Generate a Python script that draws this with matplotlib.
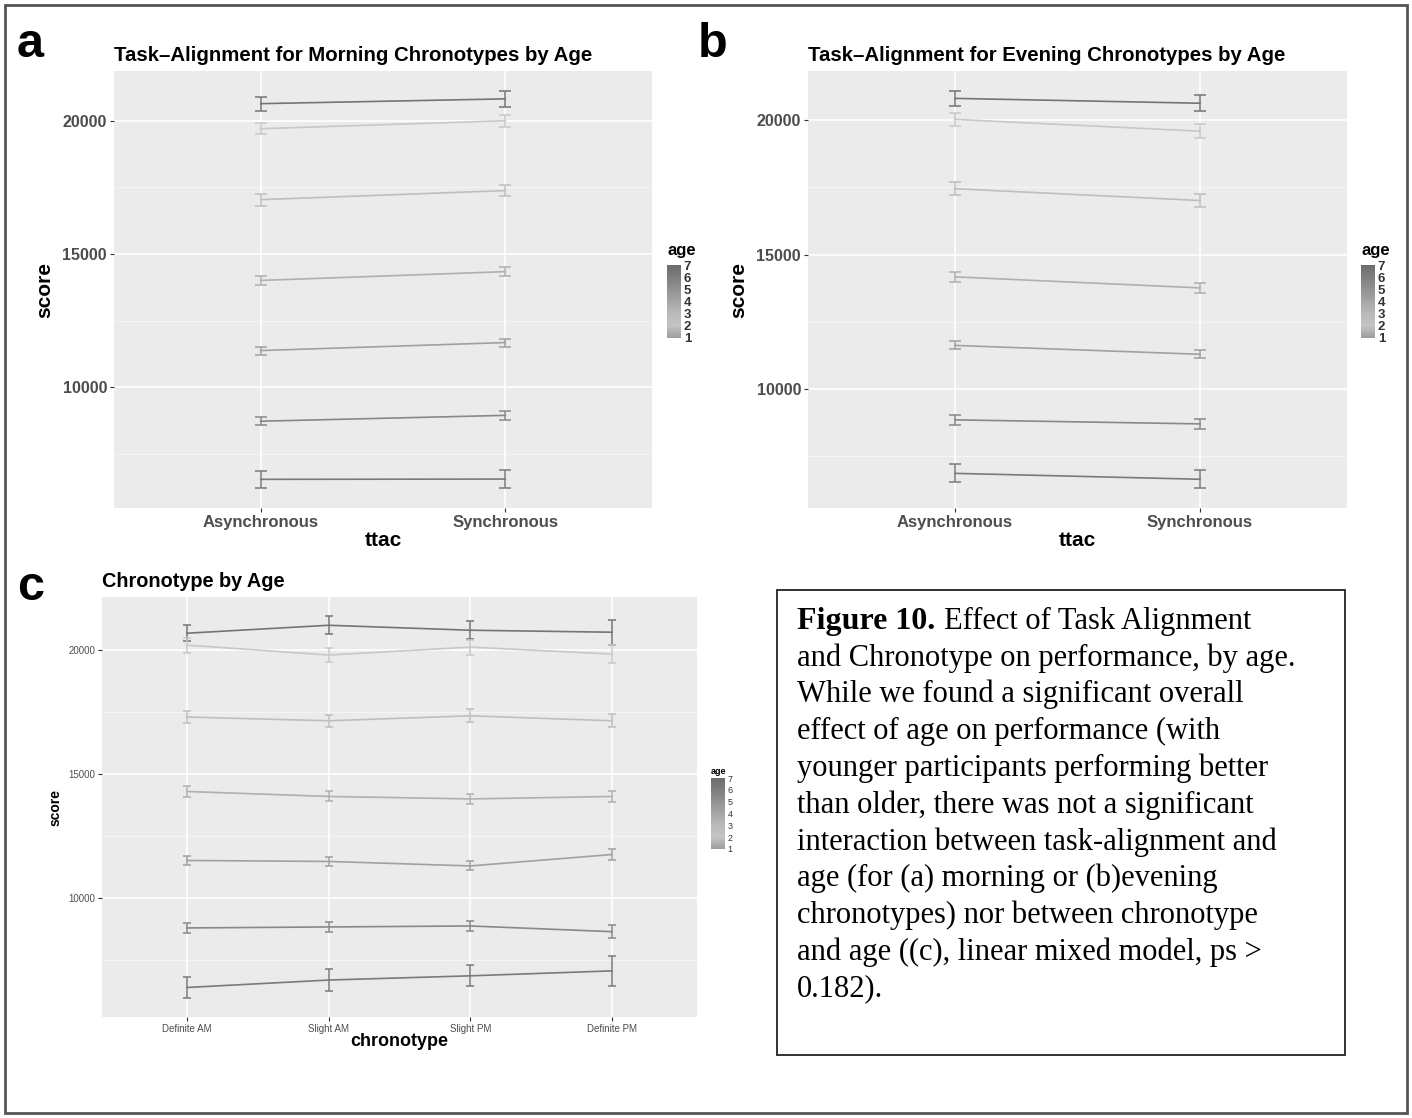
import matplotlib
matplotlib.use('Agg')
import matplotlib.pyplot as plt
import numpy as np
from matplotlib.colors import LinearSegmentedColormap, Normalize
from matplotlib.cm import ScalarMappable
from matplotlib.patches import Rectangle

plt.rcParams['font.family'] = ['Liberation Sans', 'DejaVu Sans']

# 数据
ages = [1, 2, 3, 4, 5, 6, 7]
ttac = ['Asynchronous', 'Synchronous']
chronotypes = ['Definite AM', 'Slight AM', 'Slight PM', 'Definite PM']

morning_scores = [[20640, 20820], [19700, 20000], [17040, 17380], [14010, 14340],
                  [11380, 11680], [8730, 8950], [6550, 6560]]
morning_err = [[260, 300], [200, 220], [220, 220], [170, 170],
               [150, 150], [160, 160], [330, 330]]

evening_scores = [[20810, 20630], [20030, 19590], [17450, 17010], [14170, 13760],
                  [11620, 11290], [8850, 8700], [6860, 6640]]
evening_err = [[280, 300], [250, 250], [250, 250], [180, 180],
               [150, 150], [180, 180], [330, 330]]

chrono_scores = [[20680, 21000, 20800, 20720], [20200, 19800, 20120, 19840],
                 [17300, 17150, 17350, 17150], [14300, 14100, 14000, 14100],
                 [11520, 11480, 11300, 11760], [8800, 8840, 8880, 8650],
                 [6400, 6700, 6870, 7070]]
chrono_err = [[330, 370, 370, 500], [300, 300, 300, 350], [250, 250, 260, 260],
              [220, 200, 200, 220], [180, 180, 180, 220], [200, 200, 200, 250],
              [420, 440, 420, 600]]

# 每个年龄组的线条灰度
line_grays = ['#747474', '#c8c8c8', '#bebebe', '#b0b0b0', '#a0a0a0', '#888888', '#7a7a7a']
# 图例色条灰度（1 -> 7）
bar_grays = ['#9c9c9c', '#c4c4c4', '#bababa', '#a6a6a6', '#929292', '#7e7e7e', '#6c6c6c']

W, H = 1412, 1118
fig = plt.figure(figsize=(W / 100, H / 100), dpi=100)


def px_axes(l, t, r, b):
    return fig.add_axes([l / W, 1 - b / H, (r - l) / W, (b - t) / H])


def style_ax(ax, scores, errs, ncat, tick_fs, tick_bold):
    ax.set_facecolor('#ebebeb')
    for s in ax.spines.values():
        s.set_visible(False)
    lo = np.min(np.array(scores) - np.array(errs))
    hi = np.max(np.array(scores) + np.array(errs))
    pad = (hi - lo) * 0.05
    ax.set_ylim(lo - pad, hi + pad)
    ax.set_xlim(0.4, ncat + 0.6)
    ax.set_yticks([10000, 15000, 20000])
    ax.set_yticks([7500, 12500, 17500], minor=True)
    ax.grid(which='major', color='white', lw=1.2)
    ax.grid(which='minor', axis='y', color='#f6f6f6', lw=0.6)
    ax.set_axisbelow(True)
    ax.tick_params(which='major', length=3, width=0.8, color='#333333',
                   labelcolor='#4d4d4d', labelsize=tick_fs, pad=2)
    ax.tick_params(which='minor', length=0)
    w = 'bold' if tick_bold else 'normal'
    for lab in ax.get_xticklabels() + ax.get_yticklabels():
        lab.set_fontweight(w)


def draw_lines(ax, scores, errs, ncat, cap):
    x = np.arange(1, ncat + 1)
    for i in range(len(ages)):
        ax.errorbar(x, scores[i], yerr=errs[i], color=line_grays[i], lw=1.2,
                    elinewidth=1.1, capsize=cap, capthick=1.1)


cmap = LinearSegmentedColormap.from_list('agegray', bar_grays)
norm = Normalize(vmin=1, vmax=7)


def add_cbar(l, t, r, b, fs, title_y, title_fs, bold_labels):
    cax = px_axes(l, t, r, b)
    cb = fig.colorbar(ScalarMappable(norm=norm, cmap=cmap), cax=cax, ticks=ages)
    cb.outline.set_visible(False)
    cax.tick_params(length=0, labelsize=fs, pad=2)
    for lab in cax.get_yticklabels():
        lab.set_fontweight('bold' if bold_labels else 'normal')
        lab.set_color('#333333')
    fig.text(l / W, 1 - title_y / H, 'age', fontsize=title_fs, fontweight='bold',
             va='center', ha='left')
    return cb


# ---- a: Morning ----
ax_a = px_axes(114, 71, 652, 508)
style_ax(ax_a, morning_scores, morning_err, 2, 11.5, True)
draw_lines(ax_a, morning_scores, morning_err, 2, 4)
ax_a.set_xticks([1, 2])
ax_a.set_xticklabels(ttac, fontweight='bold', fontsize=12)
ax_a.set_ylabel('score', fontsize=15, fontweight='bold', labelpad=6)
ax_a.set_xlabel('ttac', fontsize=15, fontweight='bold', labelpad=1)
ax_a.set_title('Task\u2013Alignment for Morning Chronotypes by Age', loc='left',
               fontsize=14.7, fontweight='bold', pad=7)
add_cbar(667, 265, 681, 338, 9.5, 251, 12, True)

# ---- b: Evening ----
ax_b = px_axes(808, 71, 1347, 508)
style_ax(ax_b, evening_scores, evening_err, 2, 11.5, True)
draw_lines(ax_b, evening_scores, evening_err, 2, 4)
ax_b.set_xticks([1, 2])
ax_b.set_xticklabels(ttac, fontweight='bold', fontsize=12)
ax_b.set_ylabel('score', fontsize=15, fontweight='bold', labelpad=6)
ax_b.set_xlabel('ttac', fontsize=15, fontweight='bold', labelpad=1)
ax_b.set_title('Task\u2013Alignment for Evening Chronotypes by Age', loc='left',
               fontsize=14.7, fontweight='bold', pad=7)
add_cbar(1361, 265, 1375, 338, 9.5, 251, 12, True)

# ---- c: Chronotype ----
ax_c = px_axes(102, 597, 697, 1017)
style_ax(ax_c, chrono_scores, chrono_err, 4, 7, False)
draw_lines(ax_c, chrono_scores, chrono_err, 4, 3)
ax_c.set_xticks([1, 2, 3, 4])
ax_c.set_xticklabels(chronotypes)
ax_c.set_ylabel('score', fontsize=10, fontweight='bold', labelpad=4)
ax_c.set_xlabel('chronotype', fontsize=13, fontweight='bold', labelpad=-1)
ax_c.set_title('Chronotype by Age', loc='left', fontsize=14.3, fontweight='bold', pad=7)
add_cbar(711, 778, 725, 849, 6.5, 771, 6.5, False)

# 面板字母
for letter, x, y in [('a', 17, 57), ('b', 698, 57), ('c', 17, 600)]:
    fig.text(x / W, 1 - y / H, letter, fontsize=35, fontweight='bold', va='baseline')

# 说明文字框
fig.patches.append(Rectangle((777 / W, 1 - 1055 / H), (1345 - 777) / W, (1055 - 590) / H,
                             transform=fig.transFigure, fill=False, ec='#222222', lw=1.3))
caption = ['Effect of Task Alignment',
           'and Chronotype on performance, by age.',
           'While we found a significant overall',
           'effect of age on performance (with',
           'younger participants performing better',
           'than older, there was not a significant',
           'interaction between task-alignment and',
           'age (for (a) morning or (b)evening',
           'chronotypes) nor between chronotype',
           'and age ((c), linear mixed model, ps >',
           '0.182).']
serif = ['Liberation Serif', 'DejaVu Serif']
cap_fs = 22
x0, y0, dy = 797, 621, 36.8
bold = fig.text(x0 / W, 1 - y0 / H, 'Figure 10.', fontsize=cap_fs + 1, fontweight='bold',
                family=serif, va='center', ha='left')
fig.canvas.draw()
bb = bold.get_window_extent(renderer=fig.canvas.get_renderer())
fig.text((bb.x1 + 9) / W, 1 - y0 / H, caption[0], fontsize=cap_fs, family=serif,
         va='center', ha='left')
for i, line in enumerate(caption[1:], start=1):
    fig.text(x0 / W, 1 - (y0 + i * dy) / H, line, fontsize=cap_fs, family=serif,
             va='center', ha='left')

# 外边框
fig.patches.append(Rectangle((5 / W, 1 - 1113 / H), (1407 - 5) / W, (1113 - 5) / H,
                             transform=fig.transFigure, fill=False, ec='#555555', lw=2))

fig.savefig('out.png', dpi=100)
